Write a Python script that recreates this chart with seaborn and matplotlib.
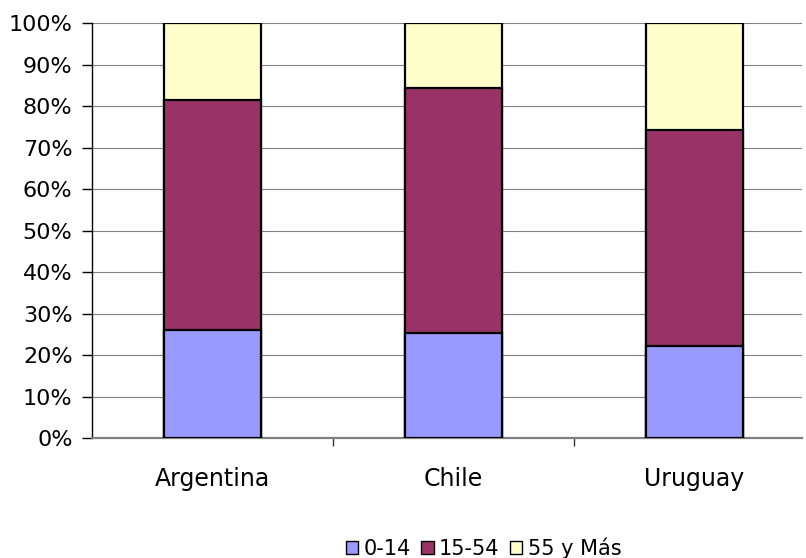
import matplotlib
matplotlib.use("Agg")
import matplotlib.pyplot as plt
from matplotlib.patches import Patch
from matplotlib.ticker import FixedLocator, PercentFormatter
import seaborn as sns
import pandas as pd
import numpy as np

# Population share by age group (%)
countries = ["Argentina", "Chile", "Uruguay"]
age_groups = ["0-14", "15-54", "55 y Más"]
share_0_14 = [26.0, 25.4, 22.1]
share_15_54 = [55.4, 59.1, 52.2]
share_55_plus = [18.6, 15.5, 25.7]
colors = ["#9999FF", "#993366", "#FFFFCC"]

df = pd.DataFrame({
    "pais": countries,
    "0-14": share_0_14,
    "15-54": share_15_54,
    "55 y Más": share_55_plus,
})
# cumulative heights for stacking (drawn tallest first so lower segments sit on top)
cum = df[age_groups].cumsum(axis=1)

sns.set_style("white")
plt.rcParams["font.family"] = ["DejaVu Sans"]

fig = plt.figure(figsize=(8.06, 5.58), dpi=100)
ax = fig.add_axes([92 / 806, 120 / 558, 710 / 806, 414.7 / 558])

for grp, col in reversed(list(zip(age_groups, colors))):
    sns.barplot(x=df["pais"], y=cum[grp], color=col, width=0.40,
                edgecolor="black", linewidth=1.6, saturation=1, ax=ax, zorder=3)

ax.set_ylim(0, 100)
ax.set_xlim(-0.5, -0.5 + 710 / 241)
ax.set_xlabel("")
ax.set_ylabel("")

ax.yaxis.set_major_locator(FixedLocator(np.arange(0, 101, 10)))
ax.yaxis.set_major_formatter(PercentFormatter(decimals=0))
ax.grid(axis="y", color="#808080", linewidth=0.8, zorder=0)
ax.set_axisbelow(True)

# category boundaries carry the ticks; names sit at the centres
ax.set_xticks([0.5, 1.5], minor=False)
ax.set_xticklabels(["", ""])
ax.set_xticks([0, 1, 2], minor=True)
ax.set_xticklabels(countries, minor=True)
ax.tick_params(axis="x", which="major", direction="out", length=6, width=1,
               color="#333333", bottom=True)
ax.tick_params(axis="x", which="minor", length=0, pad=21, labelsize=17,
               labelcolor="black")
ax.tick_params(axis="y", direction="out", length=7, width=1, color="black",
               left=True, pad=7, labelsize=16, labelcolor="black")

for s in ["top", "right"]:
    ax.spines[s].set_visible(False)
ax.spines["left"].set_color("black")
ax.spines["left"].set_linewidth(1)
ax.spines["bottom"].set_color("#808080")
ax.spines["bottom"].set_linewidth(1.6)

handles = [Patch(facecolor=c, edgecolor="black", linewidth=1) for c in colors]
fig.legend(handles, age_groups, loc="center", bbox_to_anchor=(0.60, 1 - 548 / 558),
           ncol=3, frameon=False, fontsize=15, handlelength=0.6, handleheight=0.6,
           handletextpad=0.25, columnspacing=0.5, borderpad=0, labelcolor="black")

fig.savefig("out.png", dpi=100)
